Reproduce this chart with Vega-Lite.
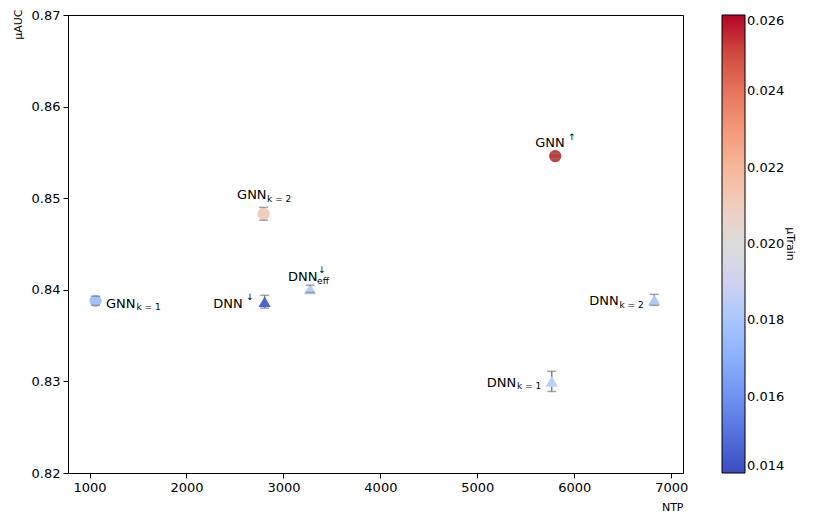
{
  "$schema": "https://vega.github.io/schema/vega-lite/v6.json",
  "width": 615,
  "height": 458,
  "autosize": {"type": "none"},
  "padding": {"left": 68, "top": 15, "right": 139, "bottom": 52},
  "background": "white",
  "config": {
    "font": "DejaVu Sans",
    "view": {"stroke": "#000", "strokeWidth": 1},
    "axis": {"grid": false, "domainColor": "#000", "tickColor": "#000", "tickSize": 5, "labelFontSize": 13, "labelColor": "#000", "titleFontSize": 11, "titleFontWeight": "normal", "titleColor": "#000", "labelPadding": 3, "labelFont": "DejaVu Sans", "titleFont": "DejaVu Sans"},
    "legend": {"gradientLength": 458, "gradientThickness": 23, "offset": 39, "padding": 0, "labelFontSize": 13, "labelColor": "#000", "labelBaseline": "middle", "titleFontSize": 11, "titleFontWeight": "normal", "titleColor": "#000", "gradientStrokeColor": "#000", "gradientStrokeWidth": 1},
    "text": {"font": "DejaVu Sans", "color": "#000"}
  },
  "data": {"values": [
    {"name": "GNN_k1", "model": "GNN", "N_TP": 1062, "mu_AUC": 0.8388, "lo": 0.8383, "hi": 0.8393, "mu_Train": 0.0178, "base": "GNN", "sub": "k = 1", "sup": ""},
    {"name": "DNN_down", "model": "DNN", "N_TP": 2806, "mu_AUC": 0.8387, "lo": 0.8380, "hi": 0.8394, "mu_Train": 0.0147, "base": "DNN", "sub": "", "sup": "↓"},
    {"name": "GNN_k2", "model": "GNN", "N_TP": 2795, "mu_AUC": 0.8483, "lo": 0.8476, "hi": 0.8490, "mu_Train": 0.0211, "base": "GNN", "sub": "k = 2", "sup": ""},
    {"name": "DNN_eff", "model": "DNN", "N_TP": 3275, "mu_AUC": 0.8401, "lo": 0.8397, "hi": 0.8405, "mu_Train": 0.0185, "base": "DNN", "sub": "eff", "sup": "↓"},
    {"name": "GNN_up", "model": "GNN", "N_TP": 5803, "mu_AUC": 0.8546, "lo": 0.8543, "hi": 0.8549, "mu_Train": 0.0253, "base": "GNN", "sub": "", "sup": "↑"},
    {"name": "DNN_k1", "model": "DNN", "N_TP": 5767, "mu_AUC": 0.8300, "lo": 0.8289, "hi": 0.8311, "mu_Train": 0.0186, "base": "DNN", "sub": "k = 1", "sup": ""},
    {"name": "DNN_k2", "model": "DNN", "N_TP": 6825, "mu_AUC": 0.8389, "lo": 0.8383, "hi": 0.8395, "mu_Train": 0.0182, "base": "DNN", "sub": "k = 2", "sup": ""}
  ]},
  "encoding": {
    "x": {"field": "N_TP", "type": "quantitative", "scale": {"domain": [778, 7121], "nice": false, "zero": false},
      "axis": {"values": [1000, 2000, 3000, 4000, 5000, 6000, 7000], "format": "d", "title": "NTP", "titleAnchor": "end", "titlePadding": 7}},
    "y": {"field": "mu_AUC", "type": "quantitative", "scale": {"domain": [0.82, 0.87], "nice": false, "zero": false},
      "axis": {"values": [0.82, 0.83, 0.84, 0.85, 0.86, 0.87], "format": ".2f", "title": "μAUC", "titleAnchor": "end", "titlePadding": 8, "titleY": -6}}
  },
  "layer": [
    {"mark": {"type": "rule", "color": "#7f7f7f", "strokeWidth": 1.5}, "encoding": {"y": {"field": "lo", "type": "quantitative"}, "y2": {"field": "hi"}}},
    {"mark": {"type": "point", "filled": true, "opacity": 1, "size": 150},
      "encoding": {
        "shape": {"field": "model", "type": "nominal", "scale": {"domain": ["GNN", "DNN"], "range": ["circle", "triangle-up"]}, "legend": null},
        "color": {"field": "mu_Train", "type": "quantitative",
          "scale": {"domain": [0.014, 0.0152, 0.0164, 0.0176, 0.0188, 0.02, 0.0212, 0.0224, 0.0236, 0.0248, 0.026],
            "range": ["#3b4cc0", "#5977e3", "#7b9ff9", "#9ebeff", "#c0d4f5", "#dddcdc", "#f2cbb7", "#f7ac8e", "#ee8468", "#d65244", "#b40426"]},
          "legend": {"title": "μTrain", "values": [0.014, 0.016, 0.018, 0.02, 0.022, 0.024, 0.026], "format": ".3f", "direction": "vertical", "type": "gradient", "titleOrient": "right", "titleAnchor": "middle", "titleAngle": -90, "titlePadding": 12, "titleBaseline": "top", "titleAlign": "center"}}
      }},
    {"mark": {"type": "tick", "orient": "horizontal", "color": "#7f7f7f", "size": 9, "thickness": 1.5}, "encoding": {"y": {"field": "lo", "type": "quantitative"}}},
    {"mark": {"type": "tick", "orient": "horizontal", "color": "#7f7f7f", "size": 9, "thickness": 1.5}, "encoding": {"y": {"field": "hi", "type": "quantitative"}}},

    {"transform": [{"filter": {"field": "name", "equal": "GNN_k1"}}], "mark": {"type": "text", "align": "left", "baseline": "alphabetic", "fontSize": 13, "dx": 10.5, "dy": 7}, "encoding": {"text": {"field": "base"}}},
    {"transform": [{"filter": {"field": "name", "equal": "GNN_k1"}}], "mark": {"type": "text", "align": "left", "baseline": "alphabetic", "fontSize": 9, "dx": 41, "dy": 9.5}, "encoding": {"text": {"field": "sub"}}},

    {"transform": [{"filter": {"field": "name", "equal": "DNN_down"}}], "mark": {"type": "text", "align": "right", "baseline": "alphabetic", "fontSize": 13, "dx": -22, "dy": 6.5}, "encoding": {"text": {"field": "base"}}},
    {"transform": [{"filter": {"field": "name", "equal": "DNN_down"}}], "mark": {"type": "text", "align": "center", "baseline": "middle", "fontSize": 9, "dx": -14.5, "dy": -4.5}, "encoding": {"text": {"field": "sup"}}},

    {"transform": [{"filter": {"field": "name", "equal": "GNN_k2"}}], "mark": {"type": "text", "align": "left", "baseline": "alphabetic", "fontSize": 13, "dx": -26.5, "dy": -14.5}, "encoding": {"text": {"field": "base"}}},
    {"transform": [{"filter": {"field": "name", "equal": "GNN_k2"}}], "mark": {"type": "text", "align": "left", "baseline": "alphabetic", "fontSize": 9, "dx": 3.5, "dy": -11.5}, "encoding": {"text": {"field": "sub"}}},

    {"transform": [{"filter": {"field": "name", "equal": "DNN_eff"}}], "mark": {"type": "text", "align": "left", "baseline": "alphabetic", "fontSize": 13, "dx": -22, "dy": -8}, "encoding": {"text": {"field": "base"}}},
    {"transform": [{"filter": {"field": "name", "equal": "DNN_eff"}}], "mark": {"type": "text", "align": "left", "baseline": "alphabetic", "fontSize": 9, "dx": 7, "dy": -5}, "encoding": {"text": {"field": "sub"}}},
    {"transform": [{"filter": {"field": "name", "equal": "DNN_eff"}}], "mark": {"type": "text", "align": "center", "baseline": "middle", "fontSize": 9, "dx": 12, "dy": -19}, "encoding": {"text": {"field": "sup"}}},

    {"transform": [{"filter": {"field": "name", "equal": "GNN_up"}}], "mark": {"type": "text", "align": "left", "baseline": "alphabetic", "fontSize": 13, "dx": -20, "dy": -8.7}, "encoding": {"text": {"field": "base"}}},
    {"transform": [{"filter": {"field": "name", "equal": "GNN_up"}}], "mark": {"type": "text", "align": "center", "baseline": "middle", "fontSize": 9, "dx": 16.7, "dy": -19}, "encoding": {"text": {"field": "sup"}}},

    {"transform": [{"filter": {"field": "name", "oneOf": ["DNN_k1", "DNN_k2"]}}], "mark": {"type": "text", "align": "right", "baseline": "alphabetic", "fontSize": 13, "dx": -35.5, "dy": 5.5}, "encoding": {"text": {"field": "base"}}},
    {"transform": [{"filter": {"field": "name", "oneOf": ["DNN_k1", "DNN_k2"]}}], "mark": {"type": "text", "align": "right", "baseline": "alphabetic", "fontSize": 9, "dx": -10.6, "dy": 8}, "encoding": {"text": {"field": "sub"}}}
  ]
}
